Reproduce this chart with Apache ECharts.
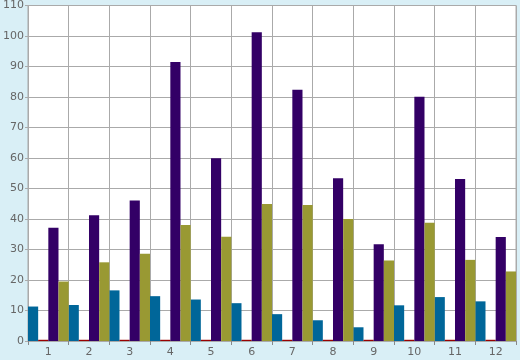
<!DOCTYPE html>
<html><head><meta charset="utf-8">
<script src="https://cdn.jsdelivr.net/npm/echarts@6/dist/echarts.min.js"></script>
<style>html,body{margin:0;padding:0;background:#d9eff6;}#c{width:520px;height:360px;}</style>
</head><body><div id="c"></div>
<script>
var categories = ['1','2','3','4','5','6','7','8','9','10','11','12'];
var blueValues   = [11.3, 11.8, 16.6, 14.7, 13.6, 12.4, 8.8, 6.8, 4.5, 11.7, 14.4, 13.0];
var redValues    = [0.4, 0.4, 0.4, 0.4, 0.4, 0.4, 0.4, 0.4, 0.4, 0.4, 0.4, 0.4];
var purpleValues = [37.1, 41.2, 46.1, 91.5, 59.9, 101.2, 82.4, 53.4, 31.7, 80.1, 53.1, 34.1];
var oliveValues  = [19.5, 25.8, 28.6, 38.0, 34.2, 44.9, 44.6, 40.0, 26.4, 38.8, 26.6, 22.8];
var yTicks = {min: 0, max: 110, interval: 10};

var chart = echarts.init(document.getElementById('c'));
function bar(name, data, color) {
  return {name: name, type: 'bar', data: data, itemStyle: {color: color},
          barGap: '0%', barCategoryGap: '0%', silent: true, animation: false};
}
chart.setOption({
  backgroundColor: '#d9eff6',
  animation: false,
  grid: {left: 26, right: 4, top: 5, bottom: 19, show: true, backgroundColor: '#ffffff', borderColor: '#aaaaaa', borderWidth: 1},
  xAxis: {
    type: 'category', data: categories,
    axisLine: {show: true, lineStyle: {color: '#aaaaaa'}},
    axisTick: {show: true, length: 4, lineStyle: {color: '#888888'}},
    axisLabel: {color: '#666666', fontFamily: 'DejaVu Sans', fontSize: 11, margin: 6},
    splitLine: {show: true, lineStyle: {color: '#aaaaaa', width: 1}}
  },
  yAxis: {
    type: 'value', min: yTicks.min, max: yTicks.max, interval: yTicks.interval,
    axisLine: {show: true, lineStyle: {color: '#aaaaaa'}},
    axisTick: {show: true, length: 3, lineStyle: {color: '#aaaaaa'}},
    axisLabel: {color: '#666666', fontFamily: 'DejaVu Sans', fontSize: 11, margin: 4},
    splitLine: {show: true, lineStyle: {color: '#aaaaaa', width: 1}}
  },
  series: [
    bar('A', blueValues, '#006699'),
    bar('B', redValues, '#990000'),
    bar('C', purpleValues, '#330066'),
    bar('D', oliveValues, '#999933')
  ]
});
</script></body></html>
